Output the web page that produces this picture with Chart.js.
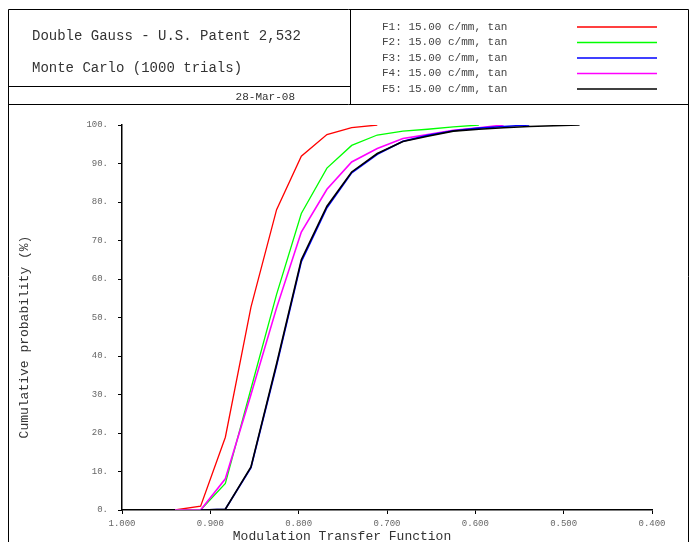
<!DOCTYPE html>
<html lang="en">

<head>
  <meta charset="UTF-8">
  <title>Double Gauss - Monte Carlo</title>
  <script src="https://cdn.jsdelivr.net/npm/chart.js"></script>
  <style>
    html, body { margin: 0; padding: 0; background: #fff; }
    canvas { display: block; }
  </style>
</head>

<body>
  <canvas id="mcChart" width="690" height="542"></canvas>

  <script>
    // MTF bin centres (x), shared by all fields
    const mtfBins = [0.940, 0.911, 0.883, 0.854, 0.825, 0.797, 0.768, 0.740, 0.711,
      0.682, 0.654, 0.625, 0.596, 0.568, 0.539, 0.511, 0.482];

    // cumulative probability (%) per field, starting at the given bin index
    const f1Start = 0;
    const f1Values = [0, 1.0, 18.9, 52.7, 78.0, 91.9, 97.5, 99.3, 100];
    const f2Start = 0;
    const f2Values = [0, 0, 6.9, 31.5, 56, 77.0, 88.8, 94.7, 97.4, 98.4, 98.9, 99.5, 100];
    const f3Start = 1;
    const f3Values = [0, 0.2, 11.0, 37.5, 64.5, 78.5, 87.6, 92.4, 95.8, 97.3, 98.5, 99.2, 99.6, 100];
    const f4Start = 0;
    const f4Values = [0, 0, 8.1, 30, 52.5, 72.2, 83.3, 90.4, 93.9, 96.5, 97.5, 98.6, 99.3, 100];
    const f5Start = 1;
    const f5Values = [0, 0.2, 11.2, 38, 65, 78.9, 87.8, 92.6, 95.7, 97.1, 98.4, 98.9, 99.3, 99.6, 99.8, 100];

    const seriesLabels = ['F1: 15.00 c/mm, tan', 'F2: 15.00 c/mm, tan', 'F3: 15.00 c/mm, tan',
      'F4: 15.00 c/mm, tan', 'F5: 15.00 c/mm, tan'];
    const seriesColors = ['#ff0000', '#00ff00', '#0000ff', '#ff00ff', '#000000'];

    const xTicks = [1.0, 0.9, 0.8, 0.7, 0.6, 0.5, 0.4];
    const yTicks = [0, 10, 20, 30, 40, 50, 60, 70, 80, 90, 100];

    const titleLines = ['Double Gauss - U.S. Patent 2,532', 'Monte Carlo (1000 trials)'];
    const dateText = '28-Mar-08';
    const xTitle = 'Modulation Transfer Function';
    const yTitle = 'Cumulative probability (%)';

    const mono = "'Liberation Mono', 'Courier New', monospace";

    function toPoints(start, values) {
      return values.map((v, i) => ({ x: mtfBins[start + i], y: v }));
    }

    const allSeries = [
      toPoints(f1Start, f1Values),
      toPoints(f2Start, f2Values),
      toPoints(f3Start, f3Values),
      toPoints(f4Start, f4Values),
      toPoints(f5Start, f5Values)
    ];
    // black on top, then blue, magenta, green, red
    const drawOrder = [4, 3, 1, 2, 0];

    // header box, frame, legend and axis titles
    const frameplugin = {
      id: 'frame',
      beforeDraw(chart) {
        const ctx = chart.ctx;
        ctx.save();
        ctx.fillStyle = '#fff';
        ctx.fillRect(0, 0, chart.width, chart.height);

        ctx.strokeStyle = '#000';
        ctx.lineWidth = 1;
        ctx.beginPath();
        // outer frame
        ctx.moveTo(8.5, 560); ctx.lineTo(8.5, 9.5); ctx.lineTo(688.5, 9.5); ctx.lineTo(688.5, 560);
        // header bottom
        ctx.moveTo(8.5, 104.5); ctx.lineTo(688.5, 104.5);
        // divider
        ctx.moveTo(350.5, 9.5); ctx.lineTo(350.5, 104.5);
        // date line
        ctx.moveTo(8.5, 86.5); ctx.lineTo(350.5, 86.5);
        ctx.stroke();

        ctx.fillStyle = '#333';
        ctx.textBaseline = 'middle';
        ctx.textAlign = 'left';
        ctx.font = '14px ' + mono;
        ctx.fillText(titleLines[0], 32, 36);
        ctx.fillText(titleLines[1], 32, 68);

        ctx.font = '11px ' + mono;
        ctx.textAlign = 'right';
        ctx.fillText(dateText, 295, 97);

        // legend
        ctx.textAlign = 'left';
        chart.data.datasets.forEach((ds, i) => {
          const y = 27 + i * 15.5;
          ctx.fillStyle = '#444';
          ctx.fillText(ds.label, 382, y);
          ctx.strokeStyle = ds.borderColor;
          ctx.lineWidth = 1.5;
          ctx.beginPath();
          ctx.moveTo(577, y);
          ctx.lineTo(657, y);
          ctx.stroke();
        });
        ctx.restore();
      },
      afterDraw(chart) {
        const ctx = chart.ctx;
        ctx.save();
        ctx.fillStyle = '#333';
        ctx.font = '13px ' + mono;
        ctx.textAlign = 'center';
        ctx.textBaseline = 'middle';
        ctx.fillText(xTitle, 342, 536.5);
        ctx.translate(25, 337);
        ctx.rotate(-Math.PI / 2);
        ctx.fillText(yTitle, 0, 0);
        ctx.restore();
      }
    };

    const ctx = document.getElementById('mcChart').getContext('2d');
    new Chart(ctx, {
      type: 'line',
      data: {
        datasets: allSeries.map((pts, i) => ({
          label: seriesLabels[i],
          data: pts,
          borderColor: seriesColors[i],
          backgroundColor: seriesColors[i],
          borderWidth: i >= 2 ? 1.6 : 1.3,
          pointRadius: 0,
          tension: 0,
          fill: false,
          order: drawOrder[i]
        }))
      },
      options: {
        responsive: false,
        animation: false,
        layout: { padding: { top: 125, left: 0, right: 38, bottom: 0 } },
        plugins: {
          legend: { display: false },
          tooltip: { enabled: false }
        },
        scales: {
          x: {
            type: 'linear',
            reverse: true,
            min: 0.4,
            max: 1.0,
            afterFit(scale) { scale.height = 32; },
            afterBuildTicks(scale) { scale.ticks = xTicks.map(v => ({ value: v })); },
            ticks: {
              callback: v => Number(v).toFixed(3),
              color: '#666',
              font: { family: mono, size: 9 },
              padding: 4,
              maxRotation: 0,
              autoSkip: false
            },
            grid: { drawOnChartArea: false, drawTicks: true, tickLength: 4, color: '#000', lineWidth: 1 },
            border: { display: true, color: '#000', width: 1.5 }
          },
          y: {
            type: 'linear',
            min: 0,
            max: 100,
            afterFit(scale) { scale.width = 122; },
            afterBuildTicks(scale) { scale.ticks = yTicks.map(v => ({ value: v })); },
            ticks: {
              callback: v => v + '.',
              color: '#666',
              font: { family: mono, size: 9 },
              padding: 10,
              autoSkip: false
            },
            grid: { drawOnChartArea: false, drawTicks: true, tickLength: 4, color: '#000', lineWidth: 1 },
            border: { display: true, color: '#000', width: 1.5 }
          }
        }
      },
      plugins: [frameplugin]
    });
  </script>
</body>

</html>
